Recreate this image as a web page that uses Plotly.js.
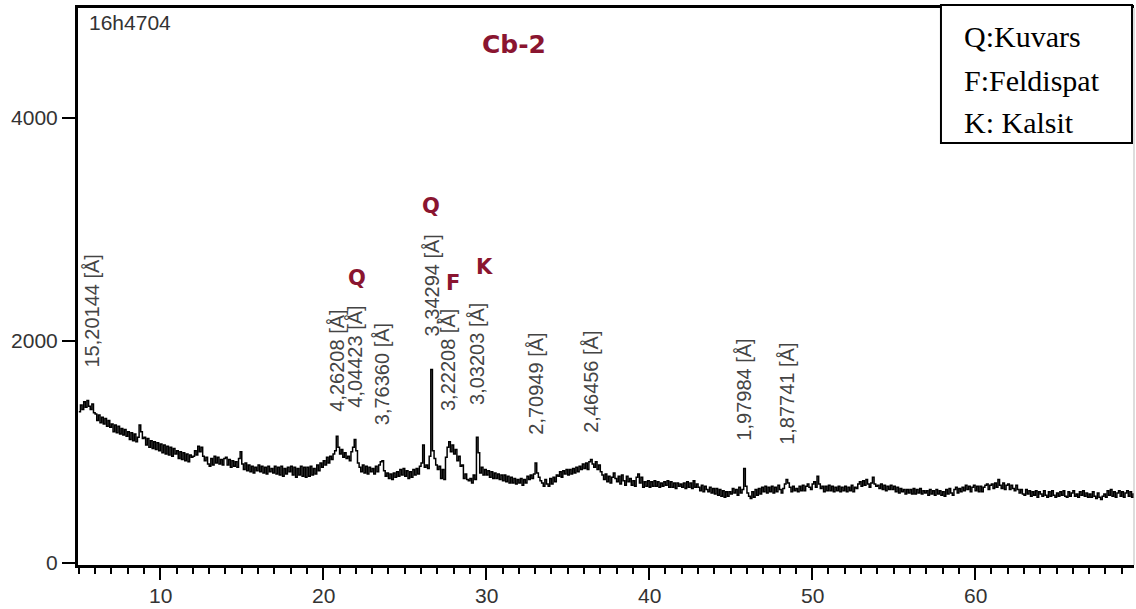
<!DOCTYPE html>
<html>
<head>
<meta charset="utf-8">
<script src="https://cdn.plot.ly/plotly-3.0.1.min.js"></script>
<style>html,body{margin:0;padding:0;background:#fff;}#chart{width:1136px;height:609px;}</style>
</head>
<body>
<div id="chart"></div>
<script>
// XRD scan: 2theta start and step (degrees), intensities (counts)
const scanStart = 5.0;
const scanStep = 0.1;
const counts = [
  1360,1420,1380,1450,1400,1460,1410,1380,1430,1350,
  1340,1280,1330,1260,1310,1250,1300,1230,1280,1220,
  1250,1180,1240,1170,1230,1160,1210,1150,1200,1140,
  1180,1110,1170,1100,1160,1090,1130,1240,1180,1120,
  1130,1060,1120,1040,1100,1030,1090,1020,1080,1010,
  1070,990,1060,980,1050,970,1040,960,1030,980,
  1010,940,1000,930,990,920,980,910,970,950,
  960,1010,970,1050,1000,1040,960,920,950,890,
  870,940,880,960,900,950,890,930,880,940,
  950,880,930,860,920,870,910,860,940,1000,
  890,840,900,830,880,820,870,810,860,830,
  880,820,870,810,860,800,870,820,850,810,
  870,800,860,790,870,780,850,800,860,820,
  870,790,860,770,850,790,870,780,860,770,
  860,780,870,790,850,800,880,830,900,860,
  920,880,950,900,960,930,980,1010,1140,1040,
  980,1020,950,990,940,960,920,1000,1040,1110,
  1010,900,860,820,880,810,870,800,860,820,
  850,800,870,820,880,910,920,830,780,810,
  760,800,750,810,770,820,780,840,790,850,
  780,830,760,820,770,840,790,850,800,870,
  900,1060,860,880,850,960,1740,1010,940,880,
  840,870,760,840,750,950,1040,1090,1000,1060,
  980,1020,920,960,870,880,760,800,750,740,
  760,720,790,750,1130,990,810,860,790,840,
  790,830,770,820,760,810,760,800,750,790,
  740,790,730,780,720,770,720,760,710,750,
  720,760,700,750,720,780,750,790,760,800,
  900,810,770,740,720,690,750,710,690,760,
  710,770,730,790,780,820,770,830,800,840,
  790,840,800,850,810,860,820,870,840,890,
  850,900,840,910,930,890,860,910,840,880,
  820,790,750,800,730,780,720,770,810,760,
  730,780,710,790,740,700,780,730,760,700,
  740,690,770,800,720,770,680,730,690,740,
  680,730,690,740,690,730,680,720,690,730,
  700,740,680,730,680,720,670,720,690,710,
  680,720,670,730,680,720,670,740,680,710,
  680,650,700,640,690,660,640,680,630,670,
  620,670,610,660,600,650,590,640,600,640,
  620,670,630,660,610,680,630,660,850,690,
  630,600,580,640,590,660,610,670,620,680,
  640,690,630,680,640,690,630,680,640,700,
  660,630,670,710,750,720,680,640,690,650,
  670,640,690,650,700,650,690,710,680,660,
  710,730,680,780,710,670,690,640,690,650,
  700,650,690,640,680,650,690,640,680,650,
  690,640,680,650,700,640,680,670,710,730,
  690,740,700,750,710,680,720,770,710,690,
  700,670,710,660,700,650,690,660,700,660,
  690,640,680,630,670,640,660,620,660,630,
  660,620,670,620,660,630,670,620,650,630,
  650,610,660,620,650,610,660,620,650,610,
  640,600,660,620,670,630,610,660,680,630,
  670,640,680,650,700,660,690,640,680,700,
  650,690,640,690,640,680,700,710,660,700,
  710,670,720,680,750,700,670,720,660,700,
  710,660,700,670,650,700,660,630,660,620,
  610,660,620,650,600,640,610,650,590,640,
  620,600,650,610,590,640,600,650,610,590,
  630,600,640,610,650,600,590,640,600,630,
  650,600,620,590,640,610,650,600,630,590,
  620,590,640,600,580,630,590,570,600,620,
  590,650,610,660,600,640,590,630,650,600,
  640,590,630,650,600,640,590,620,600
];

// Peak d-spacing labels, their 2theta positions and label base heights (counts)
const peakLabels = ["15,20144","4,26208","4,04423","3,76360","3,34294","3,22208","3,03203","2,70949","2,46456","1,97984","1,87741"];
const peakTheta  = [5.81, 20.83, 21.96, 23.62, 26.64, 27.66, 29.43, 33.04, 36.42, 45.80, 48.45];
const peakLabelBase = [1735, 1340, 1380, 1223, 2023, 1349, 1402, 1133, 1151, 1079, 1043];

// Phase letters
const phaseLetters = ["Q","Q","F","K"];
const phaseTheta   = [22.07, 26.6, 27.96, 29.92];
const phaseY       = [2562, 3210, 2517, 2661];

// Legend lines
const legendLines = ["Q:Kuvars","F:Feldispat","K: Kalsit"];

const sampleName = "16h4704";
const chartTitle = "Cb-2";

const xTicks = [10,20,30,40,50,60];
const yTicks = [0,2000,4000];

const x = counts.map((_, i) => +(scanStart + i * scanStep).toFixed(2));

const SANS = "Liberation Sans, Arial, sans-serif";
const SERIF = "Liberation Serif, Times New Roman, serif";
const RED = "#8a1530";

const annotations = [];
peakLabels.forEach((lab, i) => {
  annotations.push({
    x: peakTheta[i], y: peakLabelBase[i], xref: 'x', yref: 'y',
    text: lab + " [Å]", textangle: -90, showarrow: false,
    xanchor: 'center', yanchor: 'bottom',
    font: {family: SANS, size: 20, color: '#444'}
  });
});
phaseLetters.forEach((l, i) => {
  annotations.push({
    x: phaseTheta[i], y: phaseY[i], xref: 'x', yref: 'y',
    text: "<b>" + l + "</b>", showarrow: false,
    xanchor: 'center', yanchor: 'middle',
    font: {family: "DejaVu Sans, sans-serif", size: 21, color: RED}
  });
});
annotations.push({
  x: 31.7, y: 4657, xref: 'x', yref: 'y', text: "<b>" + chartTitle + "</b>",
  showarrow: false, xanchor: 'center', yanchor: 'middle',
  font: {family: "DejaVu Sans, sans-serif", size: 25, color: RED}
});
annotations.push({
  x: 5.5, y: 4855, xref: 'x', yref: 'y', text: sampleName,
  showarrow: false, xanchor: 'left', yanchor: 'middle',
  font: {family: SANS, size: 21, color: '#333'}
});
const legendY = [0.948, 0.8707, 0.7953];
legendLines.forEach((t, i) => {
  annotations.push({
    x: 0.837, y: legendY[i], xref: 'paper', yref: 'paper', text: t,
    showarrow: false, xanchor: 'left', yanchor: 'middle',
    font: {family: SERIF, size: 30, color: '#000'}
  });
});
// x tick labels drawn at the tick values, just below the axis
xTicks.forEach(v => {
  annotations.push({
    x: v, y: 0, xref: 'x', yref: 'paper', text: String(v),
    showarrow: false, xanchor: 'center', yanchor: 'middle', yshift: -30,
    font: {family: SANS, size: 21, color: '#333'}
  });
});

const data = [{
  x: x, y: counts, type: 'scatter', mode: 'lines',
  line: {color: '#000', width: 1.5, shape: 'hv'},
  hoverinfo: 'skip'
}];

const layout = {
  width: 1136, height: 609,
  margin: {l: 78, r: 2, t: 8, b: 44},
  paper_bgcolor: '#fff', plot_bgcolor: '#fff',
  showlegend: false,
  xaxis: {
    range: [4.95, 69.75], tickvals: xTicks, ticks: 'outside', ticklen: 12, tickwidth: 2,
    tickcolor: '#000', showline: true, linecolor: '#000', linewidth: 3, mirror: true,
    showgrid: false, zeroline: false, showticklabels: false,
    minor: {dtick: 1, tick0: 0, ticks: 'outside', ticklen: 6, tickwidth: 2, tickcolor: '#000', showgrid: false}
  },
  yaxis: {
    range: [-18, 4989], tickvals: yTicks, ticks: 'outside', ticklen: 13, tickwidth: 2,
    tickcolor: '#000', showline: true, linecolor: '#000', linewidth: 3, mirror: false,
    showgrid: false, zeroline: false,
    tickfont: {family: SANS, size: 21, color: '#333'}
  },
  shapes: [
    {type: 'line', xref: 'paper', yref: 'paper', x0: 1.0, x1: 1.0, y0: 0, y1: 1,
     line: {color: '#bbb', width: 1}, layer: 'above'},
    {type: 'rect', xref: 'paper', yref: 'paper', x0: 0.8172, x1: 0.9981, y0: 0.7576, y1: 1.0054,
     fillcolor: '#fff', line: {color: '#000', width: 2}, layer: 'above'}
  ],
  annotations: annotations
};

Plotly.newPlot('chart', data, layout, {displayModeBar: false, staticPlot: true});
</script>
</body>
</html>
